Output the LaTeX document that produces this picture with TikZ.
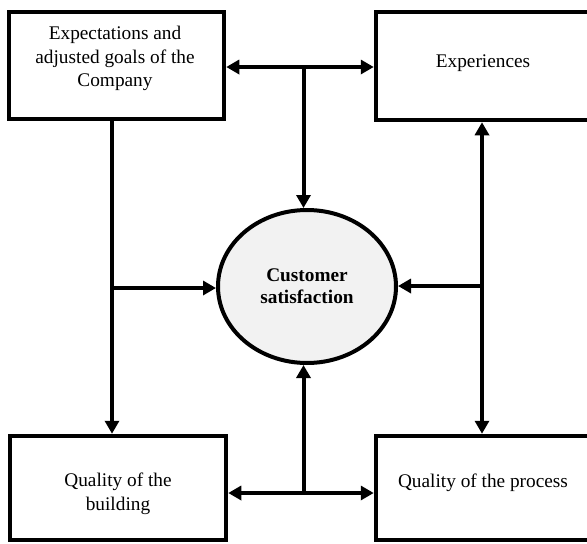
\documentclass[tikz,border=0pt]{standalone}
\usepackage{fontspec}
\setmainfont{Liberation Serif}
\usetikzlibrary{arrows.meta,shapes.geometric}
\begin{document}
\begin{tikzpicture}[x=1pt,y=-1pt,
  box/.style={draw,line width=4.5pt,inner sep=0pt},
  lbl/.style={align=center,font=\fontsize{19.3}{23.5}\selectfont,inner sep=0pt},
  arr/.style={line width=4pt,-{Triangle[length=13pt,width=14pt]}},
  darr/.style={line width=4pt,{Triangle[length=13pt,width=14pt]}-{Triangle[length=13pt,width=14pt]}},
]
\useasboundingbox (0,0) rectangle (587,544);
\clip (0,0) rectangle (587,544);
% boxes
\node[box,minimum width=215pt,minimum height=107pt] (tl) at (116.5,65.5) {};
\node[box,minimum width=224pt,minimum height=108pt] (tr) at (488,66) {};
\node[box,minimum width=216pt,minimum height=104pt] (bl) at (118,488) {};
\node[box,minimum width=224pt,minimum height=104pt] (br) at (488,488) {};
% texts
\node[lbl] (tlt) at (115,58.5) {Expectations and\\adjusted goals of the\\Company};
\node[lbl] (trt) at (483,63) {Experiences};
\node[lbl] (blt) at (118,494) {Quality of the\\building};
\node[lbl] (brt) at (483,483) {Quality of the process};
% centre
\node[ellipse,draw,line width=4pt,fill=gray!10,minimum width=178pt,minimum height=153pt,
      align=center,font=\bfseries\fontsize{19.3}{22}\selectfont,inner sep=0pt] (cs) at (307,286.5)
      {Customer\\satisfaction};
% junctions
\coordinate (jt) at (303.5,67);
\coordinate (jb) at (303.5,493);
\coordinate (jl) at (112,288);
\coordinate (jr) at (482,286);
% connectors
\draw[arr] (jt) -- (jt -| tl.east);
\draw[arr] (jt) -- (jt -| tr.west);
\draw[arr] (jt) -- (jt |- cs.north);
\draw[arr] (jb) -- (jb -| bl.east);
\draw[arr] (jb) -- (jb -| br.west);
\draw[arr] (jb) -- (jb |- cs.south);
\draw[arr] (jl |- tl.south) -- (jl |- bl.north);
\draw[arr] (jl) -- (jl -| cs.west);
\draw[darr] (jr |- tr.south) -- (jr |- br.north);
\draw[arr] (jr) -- (jr -| cs.east);
\end{tikzpicture}
\end{document}
